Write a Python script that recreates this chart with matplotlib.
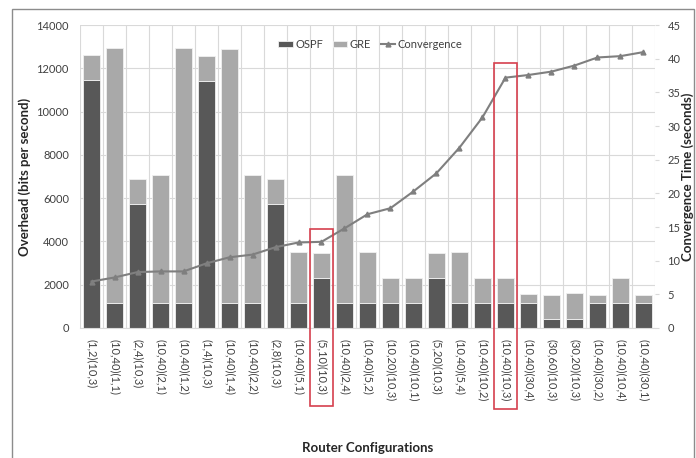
import matplotlib
matplotlib.use("Agg")
import matplotlib.pyplot as plt
import matplotlib.transforms as mtransforms
from matplotlib.patches import Rectangle
import numpy as np

plt.rcParams['font.family'] = ['Lato', 'DejaVu Sans']

configs = ['(1,2)(10,3)', '(10,40)(1,1)', '(2,4)(10,3)', '(10,40)(2,1)', '(10,40)(1,2)',
           '(1,4)(10,3)', '(10,40)(1,4)', '(10,40)(2,2)', '(2,8)(10,3)', '(10,40)(5,1)',
           '(5,10)(10,3)', '(10,40)(2,4)', '(10,40)(5,2)', '(10,20)(10,3)', '(10,40)(10,1)',
           '(5,20)(10,3)', '(10,40)(5,4)', '(10,40)(10,2)', '(10,40)(10,3)', '(10,40)(30,4)',
           '(30,60)(10,3)', '(30,20)(10,3)', '(10,40)(30,2)', '(10,40)(10,4)', '(10,40)(30,1)']

ospf = [11450, 1150, 5750, 1150, 1150, 11400, 1150, 1150, 5750, 1150,
        2300, 1150, 1150, 1150, 1150, 2300, 1150, 1150, 1150, 1150,
        400, 400, 1150, 1150, 1150]
gre = [1170, 11800, 1120, 5900, 11800, 1170, 11770, 5900, 1120, 2350,
       1170, 5920, 2350, 1150, 1150, 1170, 2350, 1150, 1150, 400,
       1140, 1200, 350, 1150, 390]
convergence = [6.9, 7.5, 8.3, 8.4, 8.4, 9.6, 10.5, 10.9, 12.0, 12.7,
               12.8, 14.8, 16.9, 17.8, 20.3, 23.0, 26.8, 31.3, 37.2, 37.6,
               38.1, 39.0, 40.2, 40.4, 41.0]

# configurations called out with a red box
highlighted = ['(5,10)(10,3)', '(10,40)(10,3)']

fig = plt.figure(figsize=(6.96, 4.58), dpi=100)
ax = fig.add_axes([0.115, 0.284, 0.826, 0.661])
ax2 = ax.twinx()

x = np.arange(len(configs))
ax.bar(x, ospf, width=0.74, color='#585858', edgecolor='#f0f0f0', linewidth=0.6,
       label='OSPF', zorder=2)
ax.bar(x, gre, width=0.74, bottom=ospf, color='#a9a9a9', edgecolor='#f0f0f0',
       linewidth=0.6, label='GRE', zorder=2)
ax2.plot(x, convergence, color='#7f7f7f', linewidth=1.5, marker='^', markersize=3.5,
         label='Convergence', zorder=3)

ax.set_xlim(-0.5, len(configs) - 0.5)
ax.set_ylim(0, 14000)
ax.set_yticks(np.arange(0, 14001, 2000))
ax2.set_ylim(0, 45)
ax2.set_yticks(np.arange(0, 46, 5))

# grid: horizontal on the overhead scale, vertical between categories
ax.set_axisbelow(True)
ax.yaxis.grid(True, color='#d9d9d9', linewidth=0.8)
for b in np.arange(-0.5, len(configs), 1.0):
    ax.axvline(b, color='#d9d9d9', linewidth=0.8, zorder=0)

ax.set_xticks(x)
ax.set_xticklabels(configs, rotation=-90, fontsize=8, color='#404040')
ax.tick_params(axis='x', length=0, pad=8)
ax.tick_params(axis='y', length=0, labelsize=8, labelcolor='#404040', pad=8)
ax2.tick_params(axis='y', length=3, color='#d9d9d9', labelsize=8,
                labelcolor='#404040', pad=6)

for a in (ax, ax2):
    for s in a.spines.values():
        s.set_visible(False)
ax.spines['bottom'].set_visible(True)
ax.spines['bottom'].set_color('#d9d9d9')

ax.set_ylabel('Overhead (bits per second)', fontsize=9.5, fontweight='bold',
              color='#262626', labelpad=4)
ax.set_xlabel('Router Configurations', fontsize=9.5, fontweight='bold',
              color='#262626', labelpad=29)
ax2.set_ylabel('Convergence Time (seconds)', fontsize=9.5, fontweight='bold',
               color='#262626', rotation=90, ha='center', va='center')
ax2.yaxis.set_label_coords(1.0565, 0.5)

h1, l1 = ax.get_legend_handles_labels()
h2, l2 = ax2.get_legend_handles_labels()
ax2.legend(h1 + h2, l1 + l2, loc='center', bbox_to_anchor=(0.505, 0.937), ncol=3,
           frameon=False, fontsize=8, handlelength=1.3, handleheight=0.5,
           columnspacing=0.9, handletextpad=0.2, labelcolor='#404040')

# red boxes around the highlighted configurations, from the line down to the labels
trans = mtransforms.blended_transform_factory(ax.transData, fig.transFigure)
box_spans = {'(5,10)(10,3)': (0.114, 0.499), '(10,40)(10,3)': (0.108, 0.862)}
for name in highlighted:
    i = configs.index(name)
    y0, y1 = box_spans[name]
    fig.patches.append(Rectangle((i - 0.5, y0), 1.0, y1 - y0, transform=trans,
                                 fill=False, edgecolor='#d6404e', linewidth=1.2))

# outer frame of the chart area
fig.patches.append(Rectangle((0.017, -0.05), 0.98, 1.03, transform=fig.transFigure,
                             fill=False, edgecolor='#8c8c8c', linewidth=1.0))

fig.savefig('out.png', dpi=100)
